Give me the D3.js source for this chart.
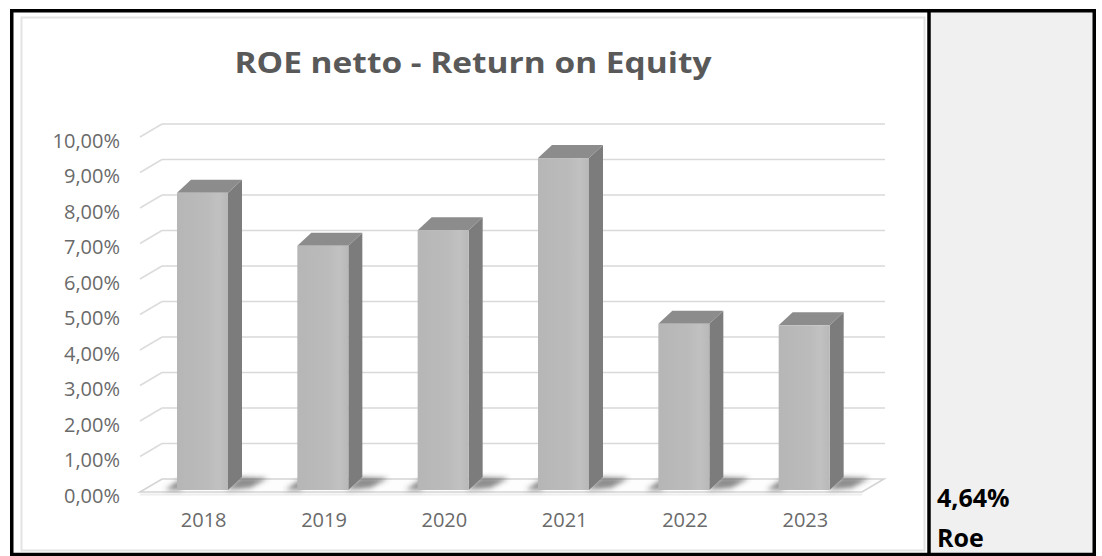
<!DOCTYPE html>
<html>
<head>
<meta charset="utf-8">
<script src="https://cdn.jsdelivr.net/npm/d3@7"></script>
<style>
  html, body { margin: 0; padding: 0; background: #ffffff; }
  svg { display: block; }
</style>
</head>
<body>
<svg id="chart" width="1102" height="556"></svg>
<script>
// ROE netto per anno (valori in %)
const years = ["2018", "2019", "2020", "2021", "2022", "2023"];
const roeValues = [8.37, 6.88, 7.32, 9.35, 4.68, 4.64];
const yTicks = [0, 1, 2, 3, 4, 5, 6, 7, 8, 9, 10];
const chartTitle = "ROE netto - Return on Equity";
const panelValue = "4,64%";
const panelLabel = "Roe";

const itLocale = d3.formatLocale({ decimal: ",", thousands: ".", grouping: [3], currency: ["", " €"] });
const pct = v => itLocale.format(".2f")(v) + "%";

const svg = d3.select("#chart");
const W = 1102, H = 556;

// --- table cells ---
svg.append("rect").attr("x", 0).attr("y", 0).attr("width", W).attr("height", H).attr("fill", "#ffffff");
svg.append("rect").attr("x", 929).attr("y", 11).attr("width", 164).attr("height", 545).attr("fill", "#f0f0f0");

// chart area
svg.append("rect").attr("x", 21.5).attr("y", 17.5).attr("width", 903).attr("height", 533)
  .attr("fill", "#ffffff").attr("stroke", "#e3e3e3").attr("stroke-width", 2);

// --- 3D plot geometry ---
const depth = { dx: 22, dy: -13 };     // floor / side wall depth
const barDepth = { dx: 14, dy: -13 };  // column depth
const y = d3.scaleLinear().domain([0, 10]).range([479, 124]);         // back wall
const yFront = d3.scaleLinear().domain([0, 10]).range([492, 137]);    // front edge
const x = d3.scaleBand().domain(years).range([140, 862]).paddingInner(0).paddingOuter(0);
const barW = 51, barOff = 37, barBase = 490;
const barTop = v => barBase - (y(0) - y(v));

const plot = svg.append("g");

// back wall gridlines and side wall lines
yTicks.forEach(t => {
  if (t === 0) return;
  plot.append("line")
    .attr("x1", 140 + depth.dx).attr("x2", 862 + depth.dx + 1)
    .attr("y1", y(t)).attr("y2", y(t))
    .attr("stroke", "#d9d9d9").attr("stroke-width", 1.6);
  plot.append("line")
    .attr("x1", 140).attr("y1", yFront(t))
    .attr("x2", 140 + depth.dx).attr("y2", y(t))
    .attr("stroke", "#dcdcdc").attr("stroke-width", 1.6);
});

// floor
const floorPts = [[140, yFront(0)], [862, yFront(0)], [862 + depth.dx, y(0)], [140 + depth.dx, y(0)]];
plot.append("polygon").attr("points", floorPts.map(p => p.join(",")).join(" "))
  .attr("fill", "#fdfdfd").attr("stroke", "#d4d4d4").attr("stroke-width", 1.6);
plot.append("line").attr("x1", 140).attr("x2", 862).attr("y1", yFront(0) + 2.5).attr("y2", yFront(0) + 2.5)
  .attr("stroke", "#eeeeee").attr("stroke-width", 2);

// defs: shadow blur and face shading
const defs = svg.append("defs");
defs.append("filter").attr("id", "soft").attr("x", "-50%").attr("y", "-200%").attr("width", "200%").attr("height", "500%")
  .append("feGaussianBlur").attr("stdDeviation", 2.5);
const grad = defs.append("linearGradient").attr("id", "frontFace").attr("x1", "0").attr("x2", "1").attr("y1", "0").attr("y2", "0");
[[0, "#b6b6b6"], [0.6, "#bbbbbb"], [0.82, "#c1c1c1"], [1, "#b8b8b8"]].forEach(([o, c]) =>
  grad.append("stop").attr("offset", o).attr("stop-color", c));

// floor shadows cast by the columns
const shadows = plot.append("g").attr("filter", "url(#soft)");
years.forEach(yr => {
  const bx = x(yr) + barOff;
  // left wedge
  shadows.append("polygon").attr("points", [
      [bx - 12, barBase], [bx + 4, barBase], [bx + 4, barBase - 10], [bx + 2, barBase - 10]
    ].map(p => p.join(",")).join(" "))
    .attr("fill", "#404040").attr("opacity", 0.6);
  // right wedge, trailing away from the side face
  shadows.append("polygon").attr("points", [
      [bx + barW - 2, barBase], [bx + barW + 22, barBase - 2],
      [bx + barW + barDepth.dx + 26, barBase + barDepth.dy + 1], [bx + barW + barDepth.dx - 2, barBase + barDepth.dy]
    ].map(p => p.join(",")).join(" "))
    .attr("fill", "#404040").attr("opacity", 0.6);
});

// columns
const bars = plot.selectAll("g.bar").data(years.map((yr, i) => ({ yr, v: roeValues[i] })))
  .enter().append("g").attr("class", "bar");

bars.each(function (d) {
  const g = d3.select(this);
  const bx = x(d.yr) + barOff;
  const top = barTop(d.v);
  // side face
  g.append("polygon").attr("points", [
      [bx + barW, top], [bx + barW + barDepth.dx, top + barDepth.dy],
      [bx + barW + barDepth.dx, barBase + barDepth.dy], [bx + barW, barBase]
    ].map(p => p.join(",")).join(" "))
    .attr("fill", "#7c7c7c");
  // top face
  g.append("polygon").attr("points", [
      [bx, top], [bx + barW, top], [bx + barW + barDepth.dx, top + barDepth.dy], [bx + barDepth.dx, top + barDepth.dy]
    ].map(p => p.join(",")).join(" "))
    .attr("fill", "#8c8c8c");
  // front face
  g.append("rect").attr("x", bx).attr("y", top).attr("width", barW).attr("height", barBase - top)
    .attr("fill", "url(#frontFace)");
});

// y axis labels
const yAxis = d3.axisLeft(d3.scaleLinear().domain([0, 10]).range([495, 140]))
  .tickValues(yTicks).tickFormat(pct).tickSize(0).tickPadding(0);
const yg = svg.append("g").attr("transform", "translate(120,0)").call(yAxis);
yg.select(".domain").remove();
yg.selectAll("text").attr("font-family", "Open Sans").attr("font-size", 20).attr("fill", "#6a6a6a").attr("dy", "0.35em");

// x axis labels, centred under each column's front face
const xLabelScale = d3.scaleBand().domain(years).range([140 + barOff + barW / 2 - 59, 862 + barOff + barW / 2 - 59]);
const xg = svg.append("g").attr("transform", "translate(0,520)").call(d3.axisBottom(xLabelScale).tickSize(0).tickPadding(0));
xg.select(".domain").remove();
xg.selectAll("text").attr("font-family", "Open Sans").attr("font-size", 20).attr("fill", "#6a6a6a").attr("dy", "0.35em");

// title
svg.append("text").attr("x", 473).attr("y", 73).attr("text-anchor", "middle")
  .attr("font-family", "Open Sans").attr("font-weight", 700).attr("font-size", 29)
  .attr("textLength", 477).attr("lengthAdjust", "spacingAndGlyphs")
  .attr("fill", "#595959").text(chartTitle);

// right panel
svg.append("text").attr("x", 937).attr("y", 507).attr("font-family", "Open Sans").attr("font-weight", 700)
  .attr("font-size", 25).attr("fill", "#000000").text(panelValue);
svg.append("text").attr("x", 937).attr("y", 547).attr("font-family", "Open Sans").attr("font-weight", 700)
  .attr("font-size", 25).attr("fill", "#000000").text(panelLabel);

// table borders
const border = svg.append("g").attr("stroke", "#000000").attr("stroke-width", 3.5).attr("fill", "none");
border.append("rect").attr("x", 11.75).attr("y", 10.75).attr("width", 1082.5).attr("height", 556);
border.append("line").attr("x1", 929).attr("x2", 929).attr("y1", 10).attr("y2", 556);
border.append("line").attr("x1", 10).attr("x2", 1096).attr("y1", 554.5).attr("y2", 554.5);
</script>
</body>
</html>
